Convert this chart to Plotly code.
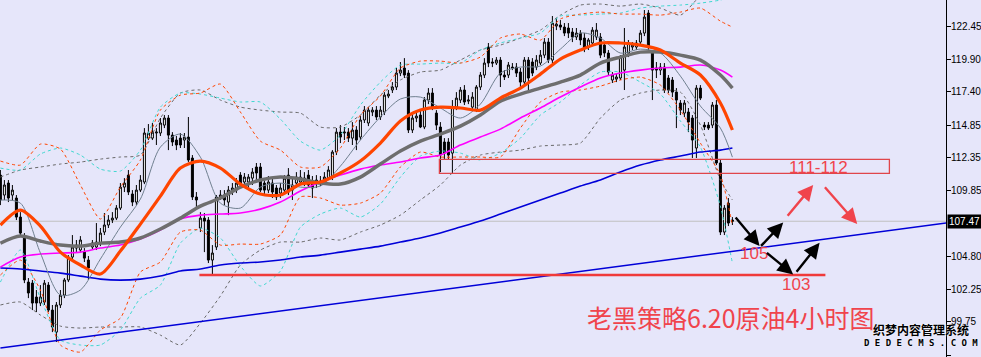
import plotly.graph_objects as go

# ---------------- candles (4-hour crude oil) ----------------
opens = [111.01,109.48,110.40,109.48,109.25,107.79,106.26,102.80,102.72,101.65,
         101.19,101.27,102.57,100.65,98.96,101.04,101.80,102.96,104.72,105.41,
         105.26,105.10,104.49,105.49,105.49,105.80,106.64,107.18,107.56,107.71,
         108.48,110.09,111.01,109.56,108.94,109.86,110.48,113.85,113.85,114.24,
         114.24,114.85,115.39,114.08,113.70,113.85,113.70,113.93,112.32,109.33,
         106.95,107.71,107.56,104.49,105.49,109.33,109.48,108.94,109.86,109.86,
         111.01,110.48,110.48,110.78,111.63,111.63,110.40,109.86,110.40,110.02,
         109.63,109.86,111.01,109.86,110.40,110.48,110.48,111.01,110.48,110.40,
         110.40,110.48,110.78,110.86,112.78,114.31,114.24,114.31,113.85,114.47,
         113.93,115.24,115.01,115.85,116.00,115.47,115.85,117.08,117.54,117.77,
         118.84,119.23,118.84,114.47,115.39,115.62,114.70,116.77,117.31,115.77,
         114.70,113.55,113.55,112.70,116.23,116.77,117.54,116.69,116.23,116.00,
         117.77,118.69,120.84,119.69,119.61,119.84,118.69,118.69,119.30,119.30,
         118.92,118.15,119.84,119.69,119.30,119.61,120.22,121.22,119.84,122.45,
         122.53,122.37,122.30,121.99,121.61,121.91,121.53,120.84,121.15,121.61,
         121.61,120.99,120.38,118.31,118.38,118.46,119.07,120.38,120.84,120.84,
         121.22,121.91,123.45,120.38,119.23,119.07,119.30,118.46,118.31,117.38,
         116.54,115.77,115.85,115.39,113.09,117.69,114.85,114.85,114.85,116.39,
         111.94,106.64,108.86,107.56]
highs = [111.40,110.63,110.63,110.25,109.48,108.17,106.56,103.11,102.96,102.19,
         102.57,102.96,102.80,101.04,101.27,102.19,103.11,104.87,106.41,106.03,
         106.33,105.41,104.80,106.03,107.33,106.95,108.10,107.94,108.17,108.71,
         110.40,110.78,111.40,109.86,110.25,111.01,114.62,114.93,115.01,114.62,
         115.39,115.62,115.62,114.31,114.01,114.24,114.24,115.47,112.55,109.71,
         108.17,108.10,107.79,105.64,109.48,109.86,109.86,110.17,110.40,110.78,
         111.24,111.17,111.09,111.55,111.94,111.94,110.78,110.94,110.78,110.25,
         110.40,111.01,111.55,110.78,111.24,111.40,111.24,111.40,110.94,111.01,
         110.94,111.24,111.70,112.93,114.62,114.85,114.70,114.62,115.08,114.77,
         115.54,116.31,116.23,116.23,116.31,116.31,117.38,117.54,118.15,119.23,
         119.69,119.99,119.07,115.85,115.85,116.00,117.00,117.69,117.69,116.00,
         115.08,113.85,113.85,116.77,117.38,117.77,117.92,117.15,117.38,117.92,
         118.92,119.99,121.15,119.99,120.07,120.07,119.07,119.69,119.61,119.61,
         119.23,120.07,120.07,119.99,120.22,120.61,121.53,121.53,123.22,123.06,
         122.91,122.68,122.68,122.30,122.30,122.14,121.91,121.53,122.37,122.68,
         121.91,121.22,120.61,118.92,118.84,120.22,122.30,121.38,121.22,121.38,
         122.14,123.68,123.68,120.61,119.69,119.61,119.61,118.69,118.54,117.69,
         116.77,116.77,116.16,115.62,117.92,117.92,115.08,115.08,116.62,116.77,
         112.17,108.71,109.25,107.79]
lows = [108.71,109.10,108.94,109.10,107.56,106.33,102.72,101.57,100.65,100.50,
        100.96,101.04,100.50,98.96,98.20,100.81,101.57,102.80,104.57,105.10,
        105.03,104.34,102.96,105.26,105.26,105.56,106.41,106.95,107.33,107.56,
        108.33,109.71,109.48,108.63,108.71,109.71,110.32,113.70,113.70,113.32,
        114.01,114.62,112.93,113.24,112.93,113.09,113.09,112.01,109.10,108.48,
        106.64,105.10,104.26,103.42,105.26,109.10,108.71,107.94,109.48,109.63,
        110.02,110.17,110.02,110.25,110.63,109.71,109.48,109.63,109.25,109.10,
        109.25,109.63,109.48,109.10,110.02,110.25,110.17,110.02,109.25,110.02,
        110.17,110.25,110.63,110.63,112.55,113.47,113.70,113.55,113.32,112.93,
        113.70,115.01,114.77,115.54,115.24,115.24,115.62,116.92,117.31,117.54,
        118.61,118.46,114.24,114.24,115.08,114.62,114.54,116.46,116.00,114.47,
        111.24,112.17,112.17,111.17,116.00,116.54,116.39,116.46,116.00,115.85,
        117.54,118.46,119.30,119.30,119.46,117.77,118.31,118.46,119.07,118.54,
        117.77,117.92,117.31,118.61,119.07,119.46,119.99,119.61,119.61,122.14,
        122.14,121.68,121.53,121.22,121.38,120.99,120.45,120.61,120.91,121.38,
        119.99,120.07,118.69,118.08,118.15,118.31,117.54,120.07,120.61,120.61,
        120.99,121.68,120.61,116.77,118.46,118.69,117.31,117.31,117.00,114.62,
        115.62,115.47,114.31,112.32,112.32,116.77,114.47,114.47,114.62,111.78,
        106.41,106.41,107.10,107.18]
closes = [109.10,110.25,109.25,109.86,107.79,106.56,102.96,101.96,101.19,101.19,
          101.65,102.72,100.65,99.35,101.04,101.80,102.96,104.72,105.49,105.64,
          106.03,104.64,103.88,105.80,105.87,106.56,107.18,107.56,107.71,108.48,
          110.09,110.40,109.71,108.94,109.86,110.63,114.24,114.24,114.31,114.31,
          115.01,115.39,114.08,113.55,113.32,113.32,113.93,112.17,109.33,109.10,
          107.71,107.48,104.49,105.03,109.33,109.48,109.10,109.86,110.02,110.40,
          110.25,110.86,110.86,111.24,111.17,109.86,109.86,110.48,109.71,109.33,
          110.02,110.78,109.71,110.25,110.86,110.86,110.78,110.25,110.02,110.63,
          110.55,110.86,111.40,112.78,114.31,113.93,114.31,113.85,114.47,113.70,
          115.24,116.00,116.00,116.00,115.47,116.00,117.15,117.23,117.77,118.84,
          119.07,118.69,114.47,115.39,115.54,114.70,116.77,117.31,116.23,114.85,
          112.55,112.70,112.55,116.23,116.92,117.54,116.62,116.77,117.00,117.77,
          118.69,119.61,119.61,119.61,119.84,118.69,118.54,119.46,119.23,118.84,
          118.15,119.84,118.46,118.84,119.84,120.22,121.22,119.84,122.68,122.60,
          122.37,121.91,121.91,121.61,121.91,121.38,120.76,121.38,122.14,122.14,
          120.22,120.38,118.92,118.69,118.54,120.07,120.84,121.15,120.99,121.15,
          121.91,123.14,120.84,119.07,119.07,119.30,117.54,117.54,117.38,116.77,
          116.00,116.54,115.08,113.70,117.69,116.92,114.70,114.62,116.39,111.94,
          106.64,108.48,107.33,107.47]
candle_idx = list(range(len(closes)))

# ---------------- indicator readings (sampled every 5 bars) ----------------
line_idx = [0,5,10,15,20,25,30,35,40,45,50,55,60,65,70,75,80,85,90,95,100,
            105,110,115,120,125,130,135,140,145,150,155,160,165,170,175,180,183]
ma_orange = [107.18,108.33,107.10,105.10,104.11,103.42,105.18,107.25,109.40,111.55,
             112.09,111.55,110.32,109.56,109.48,110.32,110.48,111.17,112.09,113.47,
             115.16,116.00,116.23,116.16,116.00,116.92,117.69,118.76,119.92,120.61,
             121.15,121.15,120.99,120.61,119.61,118.69,116.54,114.47]
ma_grey = [105.79,106.33,105.95,105.64,105.56,105.79,105.87,106.18,106.87,107.71,
           108.63,109.25,110.09,110.63,110.86,110.71,110.40,110.32,110.86,111.86,
           112.86,113.62,114.16,114.77,115.62,116.69,117.23,117.69,118.15,118.69,
           119.61,120.07,120.45,120.45,120.22,119.84,118.69,117.69]
ma_magenta = [103.95,104.72,104.95,105.03,105.10,105.41,105.64,106.10,106.79,107.64,
              107.94,108.02,108.10,108.40,108.94,109.79,110.48,111.01,111.47,111.78,
              112.01,112.32,112.55,113.32,113.93,114.54,115.39,116.16,117.00,117.77,
              118.46,118.84,119.07,119.23,119.30,119.46,119.07,118.53]
ma_blue = [103.88,103.80,103.65,103.49,103.26,103.03,102.95,103.03,103.26,103.65,
           103.80,104.11,104.26,104.34,104.49,104.72,104.87,105.10,105.33,105.56,
           105.87,106.18,106.56,107.02,107.49,108.02,108.56,109.10,109.63,110.17,
           110.63,111.25,111.78,112.17,112.47,112.78,112.93,113.09]
ma_fast = [109.10,108.86,105.03,101.80,102.19,104.57,107.02,109.17,113.16,114.16,
           112.39,108.86,108.48,110.09,110.40,110.09,110.17,111.70,113.70,115.47,
           116.85,117.00,116.16,115.39,116.46,118.84,119.30,119.38,120.68,121.91,
           121.53,120.38,120.68,120.38,118.61,116.31,114.62,112.39]
bb_orange_up = [112.09,111.78,113.39,113.01,110.25,107.64,110.09,112.17,116.00,117.15,
                117.31,118.00,115.85,113.62,112.93,111.63,111.63,113.09,115.62,117.08,
                119.23,119.76,119.76,119.61,120.07,121.53,121.84,121.37,122.99,123.37,
                123.52,123.37,123.37,123.29,123.52,123.83,122.83,122.37]
bb_orange_dn = [103.34,104.49,102.19,97.97,97.43,99.12,100.04,103.57,104.34,106.64,
                106.79,105.64,105.72,105.72,106.41,109.33,109.25,108.71,108.86,109.63,
                111.63,112.78,112.40,112.40,112.40,112.40,114.62,116.62,117.38,117.54,
                117.84,118.31,118.53,117.92,116.00,113.47,111.01,107.18]
bb_cyan_up = [111.55,111.40,112.63,113.09,112.55,111.47,111.32,112.93,116.23,117.31,
              117.23,116.92,116.62,116.62,115.31,113.62,112.93,114.08,116.39,118.15,
              119.46,119.53,119.61,119.61,120.61,121.15,121.53,121.91,123.22,123.29,
              123.37,123.45,123.83,123.98,124.06,124.21,124.45,124.75]
bb_cyan_dn = [102.80,105.26,101.57,98.35,97.97,97.97,99.12,101.57,102.57,105.79,
              106.94,106.18,104.03,102.50,103.65,107.02,108.02,108.48,107.79,108.79,
              110.86,112.47,112.86,112.70,112.17,112.70,113.85,115.62,116.62,117.92,
              118.92,118.92,118.15,117.23,115.16,113.16,108.63,104.26]
bb_grey_up = [110.86,111.40,111.63,111.86,112.01,112.24,112.40,112.55,115.39,117.31,
              117.54,116.77,116.23,116.00,115.85,115.77,114.70,114.70,115.62,117.15,
              118.31,118.92,119.07,119.84,120.61,120.99,121.53,122.14,123.29,124.06,
              124.14,123.98,124.14,123.83,123.29,124.83,126.75,126.75]
bb_grey_dn = [101.04,101.27,100.27,99.42,99.27,99.35,99.35,99.35,98.73,97.97,
              99.65,101.73,104.11,105.26,105.87,105.87,106.18,106.03,106.64,107.18,
              107.94,109.10,110.25,111.78,112.55,112.78,112.93,113.24,113.32,113.47,
              115.39,116.77,117.31,117.54,117.38,114.85,110.63,109.10]

# ---------------- axis & drawing annotations ----------------
tick_vals = [122.45, 119.90, 117.40, 114.85, 112.35, 109.85, 104.80, 102.25, 99.75, 97.20]
tick_text = ["122.45", "119.90", "117.40", "114.85", "112.35", "109.85",
             "104.80", "102.25", "99.75", "97.20"]
last_price = 107.47
trend_x = [0, 236.5]
trend_y = [97.74, 107.33]
support_x = [49.75, 206.25]
support_price = 103.34
zone_x = [109.75, 222.25]
zone_y = [111.15, 112.22]
zone_label = ("111-112", 204.5, 111.63)
level_labels = [("105", 188.5, 104.97), ("103", 199.0, 102.61)]
black_arrows = [  # (tail_x, tail_y, head_x, head_y)
    (183.5, 107.87, 189.8, 105.56),
    (189.8, 105.46, 195.7, 107.38),
    (191.25, 105.13, 198.2, 103.39),
    (198.75, 103.47, 204.8, 105.82),
]
red_arrows = [
    (196.5, 107.77, 203.2, 110.25),
    (205.8, 110.19, 214.2, 107.25),
]
title_text = "老黑策略6.20原油4小时图"
watermark_cn = "织梦内容管理系统"
watermark_en = "DEDECMS.COM"

RED = "#F0444C"
BG = "#E6E6FA"

fig = go.Figure()

def band(y, color, name):
    fig.add_trace(go.Scatter(x=line_idx, y=y, mode="lines", name=name,
                             line=dict(color=color, width=1, dash="3px,3px", shape="spline", smoothing=0.6),
                             hoverinfo="skip"))

band(bb_grey_up, "#696969", "bbg_up")
band(bb_grey_dn, "#696969", "bbg_dn")
band(bb_cyan_up, "#40D8D0", "bbc_up")
band(bb_cyan_dn, "#40D8D0", "bbc_dn")
band(bb_orange_up, "#FF4500", "bbo_up")
band(bb_orange_dn, "#FF4500", "bbo_dn")

fig.add_trace(go.Candlestick(
    x=candle_idx, open=opens, high=highs, low=lows, close=closes,
    increasing=dict(line=dict(color="black", width=1), fillcolor="white"),
    decreasing=dict(line=dict(color="black", width=1), fillcolor="black"),
    whiskerwidth=0, hoverinfo="skip", name="price"))

def ma(y, color, width, name):
    fig.add_trace(go.Scatter(x=line_idx, y=y, mode="lines", name=name,
                             line=dict(color=color, width=width, shape="spline", smoothing=0.8),
                             hoverinfo="skip"))

ma(ma_blue, "#0000D8", 1.6, "ma_blue")
ma(ma_magenta, "#FF00FF", 1.6, "ma_magenta")
ma(ma_fast, "#708090", 1, "ma_fast")
ma(ma_grey, "#6E6E6E", 3.5, "ma_grey")
ma(ma_orange, "#FF4500", 3.2, "ma_orange")

# trend line
fig.add_trace(go.Scatter(x=trend_x, y=trend_y, mode="lines",
                         line=dict(color="#0000D8", width=1.5), hoverinfo="skip"))

shapes = [
    dict(type="line", xref="paper", x0=0, x1=1, yref="y", y0=last_price, y1=last_price,
         line=dict(color="#C0C0C0", width=1), layer="below"),
    dict(type="line", xref="x", x0=support_x[0], x1=support_x[1], yref="y",
         y0=support_price, y1=support_price, line=dict(color="#F03A3A", width=2.5)),
    dict(type="rect", xref="x", x0=zone_x[0], x1=zone_x[1], yref="y",
         y0=zone_y[0], y1=zone_y[1], line=dict(color="#E0454A", width=1.3)),
]

annotations = []
for txt, lx, ly in [zone_label] + level_labels:
    annotations.append(dict(xref="x", yref="y", x=lx, y=ly, text=txt, showarrow=False,
                            xanchor="center", yanchor="middle",
                            font=dict(family="Liberation Sans", size=17, color=RED)))
for tx, ty, hx, hy in black_arrows:
    annotations.append(dict(xref="x", yref="y", axref="x", ayref="y", x=hx, y=hy, ax=tx, ay=ty,
                            text="", showarrow=True, arrowhead=2, arrowsize=1.3, arrowwidth=2.4,
                            arrowcolor="black", standoff=0, startstandoff=0))
for tx, ty, hx, hy in red_arrows:
    annotations.append(dict(xref="x", yref="y", axref="x", ayref="y", x=hx, y=hy, ax=tx, ay=ty,
                            text="", showarrow=True, arrowhead=2, arrowsize=1.3, arrowwidth=2.4,
                            arrowcolor=RED, standoff=0, startstandoff=0))
annotations.append(dict(xref="paper", yref="paper", x=0.772, y=0.112, text=title_text,
                        xanchor="center", yanchor="middle", showarrow=False,
                        font=dict(family="Noto Sans CJK SC", size=25, color=RED)))
annotations.append(dict(xref="paper", yref="y", x=1.0, y=last_price, text=f"{last_price:.2f}",
                        showarrow=False, xanchor="left", yanchor="middle", xshift=1,
                        bgcolor="black", borderpad=1,
                        font=dict(family="Liberation Sans", size=10, color="white")))
annotations.append(dict(xref="paper", yref="paper", x=0.9736, y=0.077, text="<b>" + watermark_cn + "</b>",
                        xanchor="center", yanchor="middle", showarrow=False,
                        font=dict(family="Noto Sans CJK SC", size=12, color="black",
                                  shadow="0px 0px 2px white")))
annotations.append(dict(xref="paper", yref="paper", x=0.9736, y=0.040,
                        text="<b>" + " ".join(watermark_en) + "</b>",
                        xanchor="center", yanchor="middle", showarrow=False,
                        font=dict(family="DejaVu Sans Mono", size=9, color="black",
                                  shadow="0px 0px 2px white")))

fig.update_layout(
    width=981, height=357, margin=dict(l=0, r=35, t=0, b=0, pad=0),
    paper_bgcolor=BG, plot_bgcolor=BG, showlegend=False,
    shapes=shapes, annotations=annotations,
    xaxis=dict(range=[-0.1, 236.4], visible=False, rangeslider=dict(visible=False), fixedrange=True),
    yaxis=dict(range=[97.05, 124.45], side="right", tickvals=tick_vals, ticktext=tick_text,
               showgrid=False, zeroline=False, showline=True, linecolor="black", linewidth=1,
               ticks="outside", ticklen=4, tickcolor="black", automargin=False,
               ticklabelstandoff=-2,
               tickfont=dict(family="Liberation Sans", size=10, color="black")),
)

fig.write_html("out.html", config={"displayModeBar": False},
               post_script="document.body.style.margin='0px';document.body.style.overflow='hidden';")
